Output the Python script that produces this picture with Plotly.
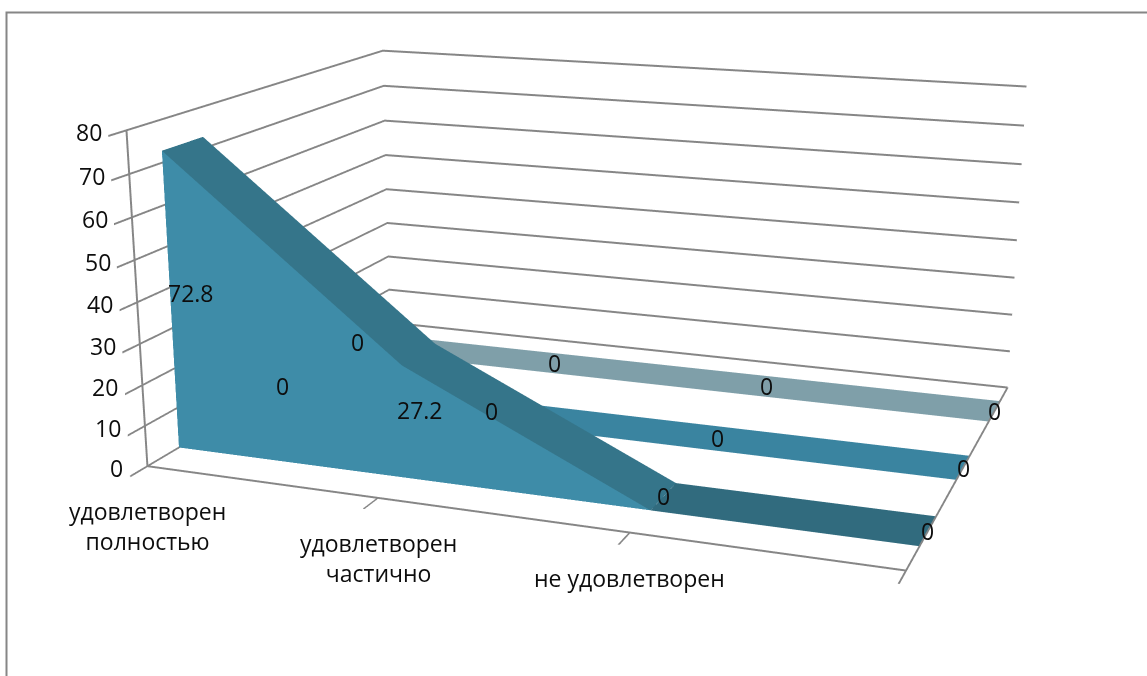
import plotly.graph_objects as go

categories = ["удовлетворен<br>полностью", "удовлетворен<br>частично", "не удовлетворен"]
series_1 = [72.8, 27.2, 0, 0]
series_2 = [0, 0, 0, 0]
series_3 = [0, 0, 0, 0]
z_ticks = [0, 10, 20, 30, 40, 50, 60, 70, 80]

FONT = "'Open Sans', 'Noto Sans', sans-serif"
GRID = "#868686"
TEXT = "#0d0d0d"
SIZE = 23
fig = go.Figure()


def ribbon(vals, y0, y1, face, slope, flat):
    n = len(vals)
    xs, ys, zs = [], [], []
    for y in (y0, y1):
        for i, v in enumerate(vals):
            xs += [i, i]; ys += [y, y]; zs += [0, v]
    I, J, K, C = [], [], [], []

    def quad(a, b, c, d, col):
        I.extend([a, a]); J.extend([b, c]); K.extend([c, d]); C.extend([col, col])
    o = 2 * n
    for i in range(n - 1):
        a = 2 * i
        if vals[i] or vals[i + 1]:
            quad(a, a + 2, a + 3, a + 1, face)
        quad(a + 1, a + 3, a + 3 + o, a + 1 + o, slope if vals[i] != vals[i + 1] else flat)
    fig.add_trace(go.Mesh3d(x=xs, y=ys, z=zs, i=I, j=J, k=K, facecolor=C, flatshading=True,
                            lighting=dict(ambient=1, diffuse=0, specular=0, fresnel=0, roughness=1),
                            hoverinfo="skip", showscale=False))


ribbon(series_3, 2.32, 2.72, "#7f9fa9", "#7f9fa9", "#7f9fa9")
ribbon(series_2, 1.3, 1.7, "#3a84a0", "#3a84a0", "#3a84a0")
ribbon(series_1, 0.32, 0.74, "#3e8ca8", "#35758a", "#316b7e")

ann = []
for i, lab in enumerate(categories):
    ann.append(dict(x=i, y=0, z=0, text=lab, showarrow=False, yanchor="top", yshift=-27,
                    font=dict(family=FONT, size=SIZE, color=TEXT)))
for t in z_ticks:
    ann.append(dict(x=0, y=0, z=t, text=str(t), showarrow=False, xanchor="right", xshift=-22, yshift=-2,
                    font=dict(family=FONT, size=SIZE, color=TEXT)))
for y, vals in ((0.53, series_1), (1.5, series_2), (2.52, series_3)):
    for i, v in enumerate(vals):
        ann.append(dict(x=i, y=y, z=max(v / 2, 0), text=str(v), showarrow=False,
                        font=dict(family=FONT, size=SIZE, color=TEXT)))

ax = dict(showbackground=False, showspikes=False, title="", zeroline=False)
fig.update_layout(
    width=1147, height=676, margin=dict(l=0, r=0, t=0, b=0), paper_bgcolor="white",
    showlegend=False,
    scene=dict(
        domain=dict(x=[0, 1], y=[0, 1]),
        xaxis=dict(range=[0, 3], tickvals=[0, 1, 2, 3], showticklabels=False, showgrid=False,
                   showline=True, linecolor=GRID, linewidth=4, ticks="outside", ticklen=4, tickcolor=GRID, tickwidth=4, **ax),
        yaxis=dict(range=[0, 3], showticklabels=False, showgrid=False, showline=True, linecolor=GRID, linewidth=4, **ax),
        zaxis=dict(range=[0, 80], tickvals=z_ticks, showticklabels=False, showgrid=True, gridcolor=GRID, gridwidth=4,
                   showline=True, linecolor=GRID, linewidth=4, ticks="outside", ticklen=4, tickcolor=GRID, tickwidth=4, **ax),
        aspectmode="manual", aspectratio=dict(x=1.7, y=1.25, z=0.755),
        camera=dict(eye=dict(x=1.525, y=-4.276, z=1.159), center=dict(x=-0.064, y=-0.023, z=-0.165), up=dict(x=0, y=0, z=1)),
        annotations=ann,
    ),
    shapes=[dict(type="rect", xref="paper", yref="paper", x0=6.5 / 1147, x1=1.02, y0=-0.02, y1=1 - 12.5 / 676,
                 line=dict(color=GRID, width=2))],
)
# narrower lens than the scene's fixed default, so the walls converge as gently as in the reference
post = """
document.body.style.margin = '0';
var gd = document.getElementById('{plot_id}');
function lens() {
  var s = gd._fullLayout.scene._scene;
  s.glplot.fovy = 0.33;
  s.glplot.redraw();
  Plotly.relayout(gd, {'scene.aspectratio.x': 1.7});
}
setTimeout(lens, 100);
"""
fig.write_html("out.html", post_script=post, config=dict(displayModeBar=False))
